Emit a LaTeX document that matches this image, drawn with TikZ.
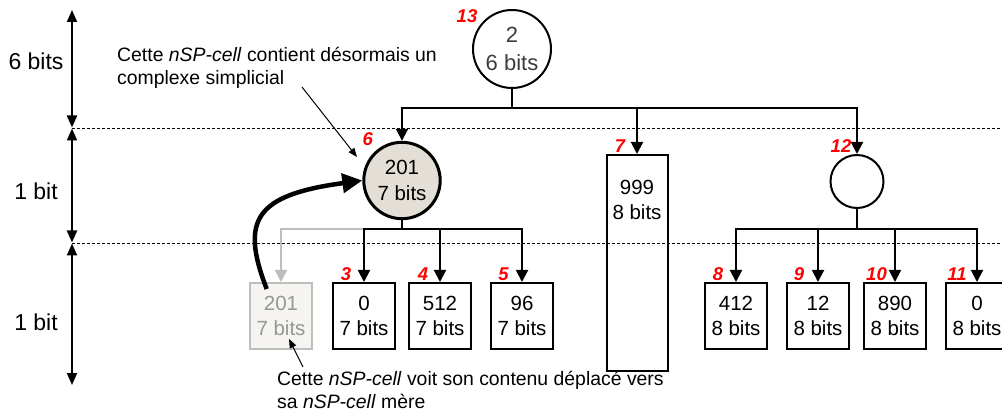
\documentclass[tikz,border=0pt]{standalone}
\usepackage{fontspec}
\setmainfont{Liberation Sans}
\usetikzlibrary{arrows.meta}
\definecolor{beige}{RGB}{228,223,214}
\definecolor{ghostfill}{RGB}{245,244,240}
\definecolor{ghostline}{RGB}{190,190,190}
\definecolor{ghosttext}{RGB}{150,150,150}
\definecolor{numred}{RGB}{255,0,0}
\definecolor{roottext}{RGB}{60,60,60}
\begin{document}
\begin{tikzpicture}[x=1pt,y=-1pt,
  edge/.style={line width=2pt},
  tip/.style={-{Triangle[width=12pt,length=12pt]}},
  dimarrow/.style={line width=2pt,{Triangle[width=10pt,length=12pt]}-{Triangle[width=10pt,length=12pt]}},
  sep/.style={line width=0.8pt,dash pattern=on 3pt off 2pt},
  cellc/.style={circle,draw,line width=2pt,inner sep=0pt,align=center,font=\fontsize{20.5}{25.5}\selectfont},
  cellbox/.style={rectangle,draw,line width=2pt,minimum width=62pt,minimum height=66pt,inner sep=0pt,align=center,font=\fontsize{20.5}{25.5}\selectfont},
  num/.style={text=numred,font=\fontsize{18.5}{18.5}\selectfont\bfseries\itshape,inner sep=0pt},
  side/.style={font=\fontsize{23}{23}\selectfont,inner sep=0pt},
  note/.style={font=\fontsize{19.4}{23}\selectfont,align=left,inner sep=0pt},
  pointer/.style={line width=1pt,-{Triangle[width=7pt,length=9pt]}}
]
\useasboundingbox (0,0) rectangle (1002,414);

% level separators
\coordinate (s1a) at (72,128); \coordinate (s1b) at (1002,128);
\coordinate (s2a) at (72,243); \coordinate (s2b) at (1002,243);
\draw[sep] (s1a) -- (s1b);
\draw[sep] (s2a) -- (s2b);

% dimension arrows
\coordinate (d0) at (72,10);
\coordinate (d1t) at (72,127.5); \coordinate (d1b) at (72,128.5);
\coordinate (d2t) at (72,242.5); \coordinate (d2b) at (72,243.5);
\coordinate (d3) at (72,385);
\draw[dimarrow] (d0) -- (d1t);
\draw[dimarrow] (d1b) -- (d2t);
\draw[dimarrow] (d2b) -- (d3);
\node[side] (l1) at (36,61) {6 bits};
\node[side] (l2) at (36,191) {1 bit};
\node[side] (l3) at (36,322) {1 bit};

% nodes
\node[cellc,minimum size=78pt,text=roottext,font=\fontsize{22}{28}\selectfont] (n13) at (512,49) {2\\6 bits};
\node[cellc,minimum size=76.4pt,line width=3pt,fill=beige] (n6) at (402,180.5) {201\\7 bits};
\node[rectangle,draw,line width=2pt,minimum width=61pt,minimum height=216pt,inner sep=0pt] (n7) at (637,263) {};
\node[font=\fontsize{20.5}{25}\selectfont,align=center,inner sep=0pt] (t7) at (637,199.5) {999\\8 bits};
\node[cellc,minimum size=53pt] (n12) at (857,181.5) {};

\node[cellbox,draw=ghostline,fill=ghostfill,text=ghosttext] (bg) at (281,316) {201\\7 bits};
\node[cellbox] (b3) at (364,316) {0\\7 bits};
\node[cellbox] (b4) at (440,316) {512\\7 bits};
\node[cellbox] (b5) at (522,316) {96\\7 bits};
\node[cellbox] (b8) at (736,316) {412\\8 bits};
\node[cellbox] (b9) at (818,316) {12\\8 bits};
\node[cellbox] (b10) at (895,316) {890\\8 bits};
\node[cellbox] (b11) at (977,316) {0\\8 bits};

% tree edges
\coordinate (j13) at (512,108);
\draw[edge] (n13.south) -- (j13);
\draw[edge,tip] (j13) -| (n6.north);
\draw[edge,tip] (j13) -| (n7.north);
\draw[edge,tip] (j13) -| (n12.north);

\coordinate (j6) at (402,229);
\draw[edge,draw=ghostline,-{Triangle[width=12pt,length=12pt,fill=ghostline]}] (j6) -| (bg.north);
\draw[edge] (n6.south) -- (j6);
\draw[edge,tip] (j6) -| (b3.north);
\draw[edge,tip] (j6) -| (b4.north);
\draw[edge,tip] (j6) -| (b5.north);

\coordinate (j12) at (857,229);
\draw[edge] (n12.south) -- (j12);
\draw[edge,tip] (j12) -| (b8.north);
\draw[edge,tip] (j12) -| (b9.north);
\draw[edge,tip] (j12) -| (b10.north);
\draw[edge,tip] (j12) -| (b11.north);

% move arrow
\coordinate (mv) at (266.7,289);
\draw[line width=4.5pt,-{Triangle[width=19pt,length=20pt]}] (mv) .. controls (240,220) and (255,195) .. (n6.west);

% numbers
\node[num] (k13) at (467,16) {13};
\node[num] (k6) at (367.7,139) {6};
\node[num] (k7) at (620,146) {7};
\node[num] (k12) at (841,146) {12};
\node[num] (k3) at (346,274) {3};
\node[num] (k4) at (423,274) {4};
\node[num] (k5) at (503.5,274) {5};
\node[num] (k8) at (718,274) {8};
\node[num] (k9) at (799,274) {9};
\node[num] (k10) at (876.5,274) {10};
\node[num] (k11) at (957,274) {11};

% annotations
\node[note,anchor=north west] (note1) at (117,47.5) {Cette \textit{nSP-cell} contient désormais un\\complexe simplicial};
\coordinate (p1s) at (302,87); \coordinate (p1e) at (357,157);
\draw[pointer] (p1s) -- (p1e);
\node[note,anchor=north west] (note2) at (277,371.5) {Cette \textit{nSP-cell} voit son contenu déplacé vers\\sa \textit{nSP-cell} mère};
\coordinate (p2s) at (303,367); \coordinate (p2e) at (289,339);
\draw[pointer] (p2s) -- (p2e);
\end{tikzpicture}
\end{document}
